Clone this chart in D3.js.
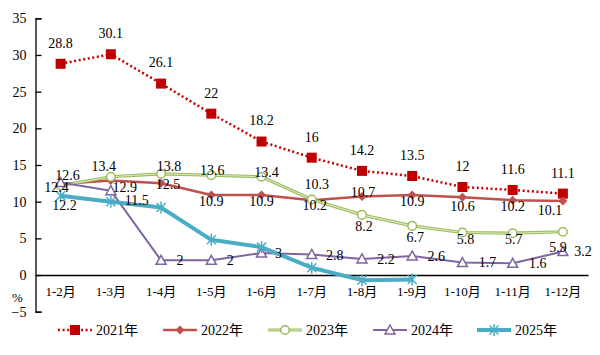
<!DOCTYPE html>
<html>
<head>
<meta charset="utf-8">
<script src="https://cdn.jsdelivr.net/npm/d3@7"></script>
<style>
  html, body { margin: 0; padding: 0; background: #fff; }
  svg { display: block; }
</style>
</head>
<body>
<svg id="chart" width="600" height="355"></svg>
<script>
// ---- data ----
const categories = ["1-2月","1-3月","1-4月","1-5月","1-6月","1-7月","1-8月","1-9月","1-10月","1-11月","1-12月"];
const seriesNames = ["2021年","2022年","2023年","2024年","2025年"];
const values2021 = [28.8, 30.1, 26.1, 22, 18.2, 16, 14.2, 13.5, 12, 11.6, 11.1];
const values2022 = [12.4, 12.9, 12.5, 10.9, 10.9, 10.2, 10.7, 10.9, 10.6, 10.2, 10.1];
const values2023 = [12.2, 13.4, 13.8, 13.6, 13.4, 10.3, 8.2, 6.7, 5.8, 5.7, 5.9];
const values2024 = [12.6, 11.5, 2, 2, 3, 2.8, 2.2, 2.6, 1.7, 1.6, 3.2];
const values2025 = [10.8, 10.0, 9.2, 4.8, 3.8, 1.0, -0.7, -0.6];
const yTicks = [-5, 0, 5, 10, 15, 20, 25, 30, 35];
const unitLabel = "%";

// ---- label placement (style, offsets in px from the point) ----
const labelOffsets = {
  "2021年": categories.map(() => [0, -21]),
  "2022年": [[-4,3],[14,7],[7,1],[0,6],[0,6],[3,5],[1,-4.5],[0,6],[0,9],[0,6],[-13,9]],
  "2023年": [[4,20],[-7,-11],[8,-8],[1,-5],[5,-5],[5,-15],[2,11],[3,11],[3,7],[1,6],[-5,15]],
  "2024年": [[7,-8],[26,9],[19,0],[19,0],[17,0],[23,1],[24,0],[24,0],[25,0],[25,0],[20,0]],
  "2025年": null
};

const FONT = "'Liberation Serif', 'Times New Roman', 'Noto Sans CJK SC', serif";

const series = [
  { name: seriesNames[0], values: values2021, color: "#C00000", marker: "square", width: 2.5, dash: "2,2.6" },
  { name: seriesNames[1], values: values2022, color: "#C0504D", marker: "diamond", width: 2.5 },
  { name: seriesNames[2], values: values2023, color: "#9BBB59", marker: "circle", width: 3.2, inner: "#DDE8C6" },
  { name: seriesNames[3], values: values2024, color: "#8064A2", marker: "triangle", width: 2 },
  { name: seriesNames[4], values: values2025, color: "#4BACC6", marker: "star", width: 4 }
];

// ---- layout ----
const svg = d3.select("#chart");
const plotLeft = 35.5, plotRight = 588, plotTop = 18.3, plotBottom = 311.7;

const x = d3.scaleBand().domain(categories).range([plotLeft, plotRight]);
const y = d3.scaleLinear().domain([-5, 35]).range([plotBottom, plotTop]);
const cx = c => x(c) + x.bandwidth() / 2;

// y axis
const yAxis = d3.axisLeft(y).tickValues(yTicks).tickSize(-6).tickSizeOuter(-6).tickPadding(9);
const gy = svg.append("g").attr("transform", `translate(${plotLeft},0)`).call(yAxis);
gy.attr("font-family", null).attr("font-size", null);
gy.selectAll("path, line").attr("stroke", "#000").attr("stroke-width", 1.3);
gy.selectAll("text").style("font-family", FONT).style("font-size", "14px").attr("fill", "#000");

svg.append("text").attr("x", 17.5).attr("y", 297).attr("dy", "0.35em")
  .attr("text-anchor", "middle").style("font-family", FONT).style("font-size", "13px").attr("fill", "#000").text(unitLabel);

// x axis at y=0
const xAxis = d3.axisBottom(x).tickSize(0).tickSizeOuter(0).tickPadding(12);
const gx = svg.append("g").attr("transform", `translate(0,${y(0)})`).call(xAxis);
gx.attr("font-family", null).attr("font-size", null);
gx.select(".domain").attr("stroke", "#000").attr("stroke-width", 1.3);
gx.selectAll("text").style("font-family", FONT).style("font-size", "13px").attr("fill", "#000");

// marker drawing
function drawMarker(g, type, color, px, py) {
  if (type === "square") {
    g.append("rect").attr("x", px - 5).attr("y", py - 5).attr("width", 10).attr("height", 10).attr("fill", color);
  } else if (type === "diamond") {
    g.append("path").attr("d", `M${px},${py-4.5}L${px+4.5},${py}L${px},${py+4.5}L${px-4.5},${py}Z`).attr("fill", color);
  } else if (type === "circle") {
    g.append("circle").attr("cx", px).attr("cy", py).attr("r", 4.3).attr("fill", "#fff").attr("stroke", color).attr("stroke-width", 1.5);
  } else if (type === "triangle") {
    g.append("path").attr("d", `M${px},${py-5}L${px+5},${py+4}L${px-5},${py+4}Z`).attr("fill", "#fff").attr("stroke", color).attr("stroke-width", 1.5);
  } else if (type === "star") {
    const r = 6, d = r * 0.75;
    g.append("path").attr("d", `M${px},${py-r}V${py+r}M${px-d},${py-d}L${px+d},${py+d}M${px-d},${py+d}L${px+d},${py-d}`)
      .attr("stroke", color).attr("stroke-width", 1.5).attr("fill", "none");
  }
}

const line = d3.line().x((d, i) => cx(categories[i])).y(d => y(d));

series.forEach(s => {
  const g = svg.append("g");
  const p = g.append("path").datum(s.values).attr("d", line).attr("fill", "none")
    .attr("stroke", s.color).attr("stroke-width", s.width).attr("stroke-linejoin", "round");
  if (s.dash) p.attr("stroke-dasharray", s.dash);
  if (s.inner) {
    g.append("path").datum(s.values).attr("d", line).attr("fill", "none")
      .attr("stroke", s.inner).attr("stroke-width", 1.1);
  }
  s.values.forEach((v, i) => drawMarker(g, s.marker, s.color, cx(categories[i]), y(v)));
});

// labels (drawn on top)
series.forEach(s => {
  const offs = labelOffsets[s.name];
  if (!offs) return;
  svg.append("g").selectAll("text").data(s.values).join("text")
    .attr("x", (d, i) => cx(categories[i]) + offs[i][0])
    .attr("y", (d, i) => y(d) + offs[i][1])
    .attr("dy", "0.35em").attr("text-anchor", "middle")
    .style("font-family", FONT).style("font-size", "14px").attr("fill", "#000")
    .text(d => d);
});

// legend
const legendX = [58, 163, 268, 373, 477];
const legendY = 330;
series.forEach((s, i) => {
  const g = svg.append("g");
  const x0 = legendX[i], x1 = x0 + 34;
  const p = g.append("line").attr("x1", x0).attr("x2", x1).attr("y1", legendY).attr("y2", legendY)
    .attr("stroke", s.color).attr("stroke-width", s.width);
  if (s.dash) p.attr("stroke-dasharray", s.dash);
  if (s.inner) g.append("line").attr("x1", x0).attr("x2", x1).attr("y1", legendY).attr("y2", legendY)
    .attr("stroke", s.inner).attr("stroke-width", 1.1);
  drawMarker(g, s.marker, s.color, (x0 + x1) / 2, legendY);
  g.append("text").attr("x", x1 + 4).attr("y", legendY).attr("dy", "0.35em")
    .style("font-family", FONT).style("font-size", "14px").attr("fill", "#000").text(s.name);
});
</script>
</body>
</html>
